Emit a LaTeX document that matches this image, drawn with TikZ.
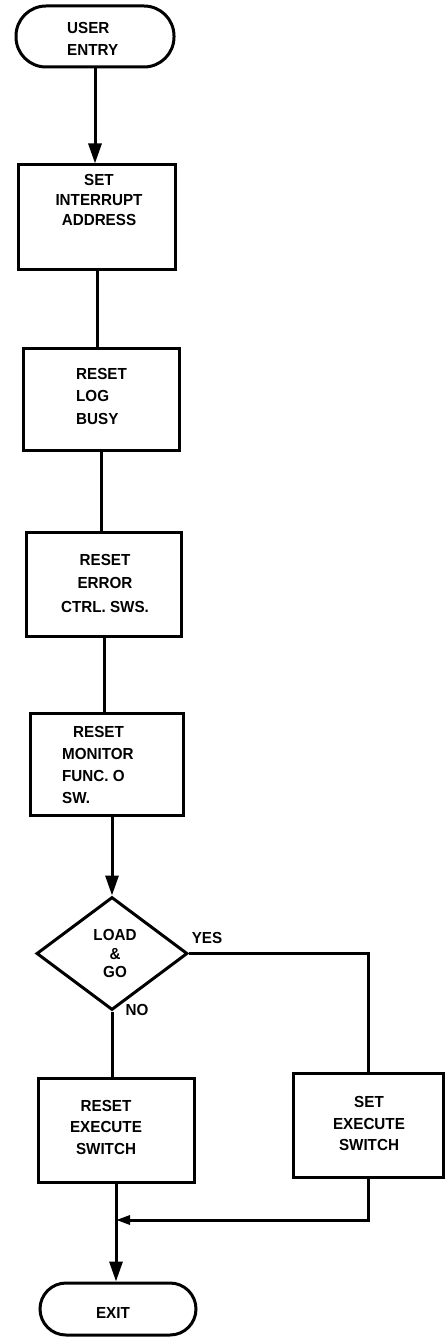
\documentclass[tikz,border=0pt]{standalone}
\usepackage{fontspec}
\setmainfont{Liberation Sans}[FakeStretch=0.95]
\usetikzlibrary{shapes.geometric,arrows.meta}
\begin{document}
\begin{tikzpicture}[x=1pt,y=-1pt,
  ln/.style={line width=3pt},
  arr/.style={ln,-{Triangle[length=20pt,width=13pt]}},
  txt/.style={font=\bfseries\fontsize{16}{22}\selectfont, align=center, inner sep=0pt},
  boxnode/.style={draw, ln, inner sep=0pt},
  termnode/.style={draw, ln, inner sep=0pt}]
\useasboundingbox (0,0) rectangle (446,1337);

% shapes
\node[termnode, rounded corners=30pt, minimum width=158pt, minimum height=61pt] (start) at (95,36.5) {};
\node[boxnode, minimum width=157pt, minimum height=105pt] (b1) at (97,217.5) {};
\node[boxnode, minimum width=156pt, minimum height=102pt] (b2) at (101,399) {};
\node[boxnode, minimum width=155pt, minimum height=104pt] (b3) at (104,584) {};
\node[boxnode, minimum width=153pt, minimum height=102pt] (b4) at (107,764) {};
\node[draw, ln, diamond, inner sep=0pt, minimum width=151pt, minimum height=113pt] (dia) at (112,953.5) {};
\node[boxnode, minimum width=156pt, minimum height=104pt] (b5) at (116,1130) {};
\node[boxnode, minimum width=150pt, minimum height=104pt] (b6) at (368,1125) {};
\node[termnode, rounded corners=26pt, minimum width=156pt, minimum height=52pt] (exit) at (118,1309) {};

% texts
\node[txt, align=left, anchor=west] (tstart) at (67,39) {USER\\ENTRY};
\node[txt, font=\bfseries\fontsize{16}{20}\selectfont] (t1) at (99,200) {SET\\INTERRUPT\\ADDRESS};
\node[txt, align=left, anchor=west, font=\bfseries\fontsize{16}{22.5}\selectfont] (t2) at (76,396) {RESET\\LOG\\BUSY};
\node[txt, font=\bfseries\fontsize{16}{23.5}\selectfont] (t3) at (105,583) {RESET\\ERROR\\CTRL. SWS.};
\node[txt, align=left, anchor=west] (t4) at (62,765) {\hspace*{11pt}RESET\\MONITOR\\FUNC. O\\SW.};
\node[txt, font=\bfseries\fontsize{16}{18.5}\selectfont] (tdia) at (115,953.5) {LOAD\\\&\\GO};
\node[txt, font=\bfseries\fontsize{16}{21.5}\selectfont] (t5) at (106,1127) {RESET\\EXECUTE\\SWITCH};
\node[txt, font=\bfseries\fontsize{16}{21.5}\selectfont] (t6) at (369,1123.5) {SET\\EXECUTE\\SWITCH};
\node[txt] (texit) at (113,1313) {EXIT};
\node[txt] (yes) at (207,938) {YES};
\node[txt] (no) at (137,1010) {NO};

% connectors
\draw[arr] (start.south) -- (start.south |- b1.north);
\draw[ln] (b1.south) -- (b1.south |- b2.north);
\draw[ln] (b2.south) -- (b2.south |- b3.north);
\draw[ln] (b3.south) -- (b3.south |- b4.north);
\draw[arr] (dia.north |- b4.south) -- (dia.north);
\draw[ln] (dia.south) -- (dia.south |- b5.north);
\draw[ln] (dia.east) -| (b6.north);
\coordinate (m) at (b5.south |- 0,1220);
\draw[ln, -{Triangle[length=14pt,width=9pt]}] (b6.south) |- (m);
\draw[arr] (b5.south) -- (b5.south |- exit.north);
\end{tikzpicture}
\end{document}
